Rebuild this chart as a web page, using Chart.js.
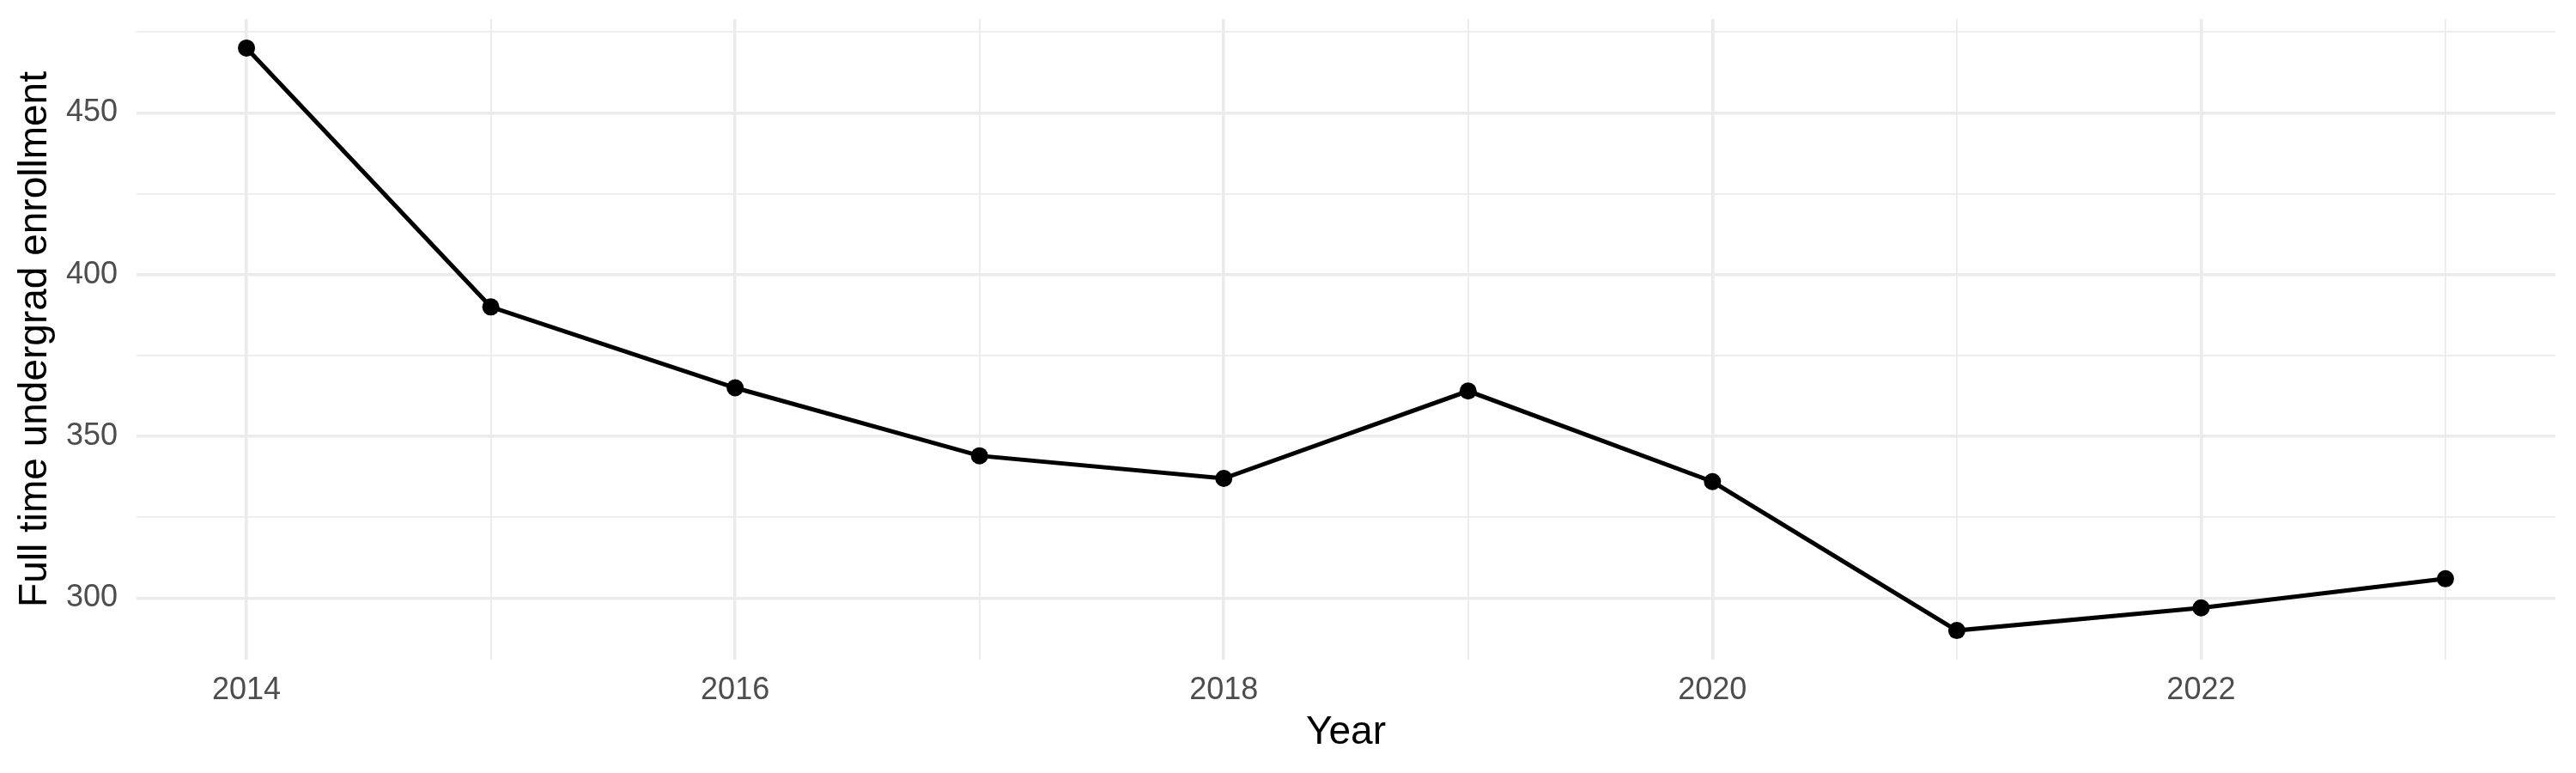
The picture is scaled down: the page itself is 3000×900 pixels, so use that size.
<!DOCTYPE html>
<html>
<head>
<meta charset="utf-8">
<script src="https://cdn.jsdelivr.net/npm/chart.js@4"></script>
<style>
  html, body { margin: 0; padding: 0; background: #ffffff; }
  #wrap { width: 3000px; height: 900px; }
</style>
</head>
<body>
<div id="wrap"><canvas id="chart" width="3000" height="900"></canvas></div>
<script>
// data
const years = [2014, 2015, 2016, 2017, 2018, 2019, 2020, 2021, 2022, 2023];
const enrollment = [470, 390, 365, 344, 337, 364, 336, 290, 297, 306];

// tick values (major get labels, minor only grid lines)
const xTicks = [2014, 2015, 2016, 2017, 2018, 2019, 2020, 2021, 2022, 2023];
const xLabelled = [2014, 2016, 2018, 2020, 2022];
const yTicks = [300, 325, 350, 375, 400, 425, 450, 475];
const yLabelled = [300, 350, 400, 450];

const FONT = "'Liberation Sans', Arial, Helvetica, sans-serif";

/* ============================
   CHART
============================ */

const points = years.map((y, i) => ({ x: y, y: enrollment[i] }));

// major lines thicker than minor ones, same light grey
function gridWidth(labelled) {
  return (ctx) => (ctx.tick && labelled.includes(ctx.tick.value) ? 3.5 : 1.8);
}

new Chart(document.getElementById("chart"), {
  type: "line",
  data: {
    datasets: [
      {
        data: points,
        borderColor: "#000000",
        backgroundColor: "#000000",
        borderWidth: 5,
        pointRadius: 10,
        pointHoverRadius: 10,
        pointBorderWidth: 0,
        tension: 0,
      },
    ],
  },
  options: {
    responsive: false,
    animation: false,
    devicePixelRatio: 1,
    layout: { padding: { top: 22, right: 24, left: 0, bottom: 0 } },
    plugins: { legend: { display: false }, tooltip: { enabled: false } },
    scales: {
      x: {
        type: "linear",
        min: 2013.55,
        max: 2023.45,
        afterBuildTicks: (scale) => {
          scale.ticks = xTicks.map((v) => ({ value: v }));
        },
        afterFit: (scale) => {
          scale.height = 900 - 768;
          scale.paddingLeft = 0;
          scale.paddingRight = 0;
        },
        border: { display: false },
        grid: {
          color: "#ebebeb",
          lineWidth: gridWidth(xLabelled),
          drawTicks: false,
        },
        ticks: {
          autoSkip: false,
          maxRotation: 0,
          padding: 14,
          color: "#4d4d4d",
          font: { family: FONT, size: 36 },
          callback: (v) => (xLabelled.includes(v) ? String(v) : ""),
        },
        title: {
          display: true,
          text: "Year",
          color: "#000000",
          font: { family: FONT, size: 46 },
          padding: { top: 0, bottom: 19 },
        },
      },
      y: {
        min: 281,
        max: 479,
        afterBuildTicks: (scale) => {
          scale.ticks = yTicks.map((v) => ({ value: v }));
        },
        afterFit: (scale) => {
          scale.width = 159;
          scale.paddingTop = 0;
          scale.paddingBottom = 0;
        },
        border: { display: false },
        grid: {
          color: "#ebebeb",
          lineWidth: gridWidth(yLabelled),
          drawTicks: false,
        },
        ticks: {
          padding: 22,
          color: "#4d4d4d",
          font: { family: FONT, size: 36 },
          callback: (v) => (yLabelled.includes(v) ? String(v) : ""),
        },
        title: {
          display: true,
          text: "Full time undergrad enrollment",
          color: "#000000",
          font: { family: FONT, size: 46 },
          padding: { top: 14, bottom: 0 },
        },
      },
    },
  },
});
</script>
</body>
</html>
